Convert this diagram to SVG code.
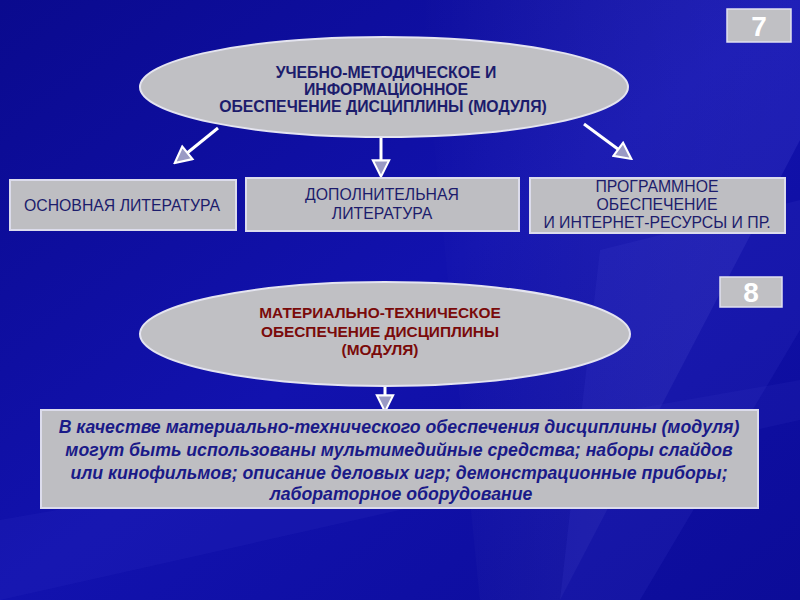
<svg xmlns="http://www.w3.org/2000/svg" width="800" height="600" viewBox="0 0 800 600">
<defs>
<linearGradient id="bg" x1="0" y1="0" x2="1" y2="1">
<stop offset="0" stop-color="#0a0a8e"/>
<stop offset="0.5" stop-color="#1212ae"/>
<stop offset="1" stop-color="#0c0c98"/>
</linearGradient>
<linearGradient id="streak" x1="0" y1="0" x2="1" y2="0">
<stop offset="0" stop-color="#ffffff" stop-opacity="0"/>
<stop offset="1" stop-color="#8080ff" stop-opacity="0.25"/>
</linearGradient>
<marker id="ah" viewBox="0 0 12 12" refX="10" refY="6" markerWidth="6.5" markerHeight="6.5" orient="auto" markerUnits="strokeWidth">
<path d="M1,1 L11,6 L1,11 Z" fill="#9a9ac4" stroke="#ffffff" stroke-width="1.3" stroke-linejoin="miter"/>
</marker>
<style>
.ell{fill:#c0c0c4;stroke:#e4e4f0;stroke-width:2}
.box{fill:#bebec2;stroke:#dcdcec;stroke-width:2}
.badge{fill:#c0c0c4;stroke:#e0e0f0;stroke-width:1.5}
.t{font-family:"Liberation Sans",Arial,sans-serif;text-anchor:middle}
.e1{font-size:15.8px;font-weight:bold;fill:#1c1c6c}
.e2{font-size:15.4px;font-weight:bold;fill:#7a0a0a}
.b{font-size:15.8px;fill:#1c1c6c}
.it{font-size:17.7px;font-weight:bold;font-style:italic;fill:#1a1a88}
.num{font-size:28px;font-weight:bold;fill:#ffffff}
.conn{stroke:#ffffff;stroke-width:3;fill:none;marker-end:url(#ah)}
</style>
</defs>
<rect width="800" height="600" fill="url(#bg)"/>
<polygon points="420,0 800,0 800,140 560,600 480,600" fill="url(#streak)" opacity="0.5"/>
<polygon points="600,250 800,200 800,330 640,600 560,600" fill="#5050e0" opacity="0.12"/>
<polygon points="0,520 800,380 800,420 0,600" fill="#4040d0" opacity="0.12"/>

<g id="badge7"><rect class="badge" x="727" y="9" width="64" height="33"/><text class="t num" x="759" y="36">7</text></g>
<g id="badge8"><rect class="badge" x="720" y="277" width="62" height="30"/><text class="t num" x="751" y="302">8</text></g>

<g id="connectors">
<line class="conn" x1="218" y1="128" x2="176" y2="162"/>
<line class="conn" x1="381" y1="138" x2="381" y2="175"/>
<line class="conn" x1="584" y1="124" x2="630" y2="158"/>
<line class="conn" x1="385" y1="387" x2="385" y2="410"/>
</g>

<g id="node-main1">
<ellipse class="ell" cx="384" cy="87" rx="244" ry="50"/>
<text class="t e1" x="386" y="78">УЧЕБНО-МЕТОДИЧЕСКОЕ И</text>
<text class="t e1" x="386" y="95">ИНФОРМАЦИОННОЕ</text>
<text class="t e1" x="383" y="112">ОБЕСПЕЧЕНИЕ ДИСЦИПЛИНЫ (МОДУЛЯ)</text>
</g>

<g id="node-basic">
<rect class="box" x="10" y="180" width="226" height="50"/>
<text class="t b" x="122" y="211">ОСНОВНАЯ ЛИТЕРАТУРА</text>
</g>
<g id="node-extra">
<rect class="box" x="246" y="178" width="273" height="53"/>
<text class="t b" x="382" y="200">ДОПОЛНИТЕЛЬНАЯ</text>
<text class="t b" x="382" y="219">ЛИТЕРАТУРА</text>
</g>
<g id="node-soft">
<rect class="box" x="530" y="178" width="255" height="55"/>
<text class="t b" x="657" y="192">ПРОГРАММНОЕ</text>
<text class="t b" x="657" y="210">ОБЕСПЕЧЕНИЕ</text>
<text class="t b" x="657" y="228">И ИНТЕРНЕТ-РЕСУРСЫ  И ПР.</text>
</g>

<g id="node-main2">
<ellipse class="ell" cx="385" cy="334" rx="245" ry="52"/>
<text class="t e2" x="380" y="318">МАТЕРИАЛЬНО-ТЕХНИЧЕСКОЕ</text>
<text class="t e2" x="380" y="337">ОБЕСПЕЧЕНИЕ ДИСЦИПЛИНЫ</text>
<text class="t e2" x="380" y="355">(МОДУЛЯ)</text>
</g>

<g id="node-desc">
<rect class="box" x="41" y="410" width="717" height="98"/>
<text class="t it" x="399" y="433">В качестве материально-технического обеспечения дисциплины (модуля)</text>
<text class="t it" x="399" y="456">могут быть использованы мультимедийные средства; наборы слайдов</text>
<text class="t it" x="399" y="479">или кинофильмов; описание деловых  игр; демонстрационные приборы;</text>
<text class="t it" x="401" y="500">лабораторное оборудование</text>
</g>
</svg>
